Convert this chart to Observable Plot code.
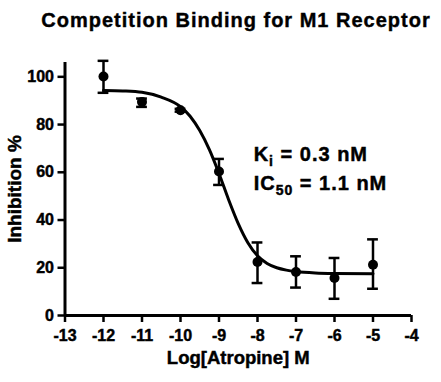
<!DOCTYPE html>
<html>
<head>
<meta charset="utf-8">
<script src="https://cdn.jsdelivr.net/npm/d3@7"></script>
<script src="https://cdn.jsdelivr.net/npm/@observablehq/plot@0.6"></script>
<style>
  html, body { margin: 0; padding: 0; background: #fff; }
  body { width: 441px; height: 382px; overflow: hidden; font-family: "Liberation Sans", Arial, sans-serif; }
  #title { height: 40px; box-sizing: border-box; padding-left: 31px; padding-top: 9px; text-align: center;
           font-size: 20px; font-weight: bold; color: #000; line-height: 22px; letter-spacing: 1px; white-space: nowrap;
           -webkit-text-stroke: 0.4px #000; }
  #chart svg text { font-weight: bold; stroke: #000; stroke-width: 0.45px; }
</style>
</head>
<body>
<div id="title">Competition Binding for M1 Receptor</div>
<div id="chart"></div>
<script>
// Measured points (log molar concentration) with error bars
const logConc = [-12, -11, -10, -9, -8, -7, -6, -5];
const inhibition = [100.1, 89.5, 86.0, 60.3, 22.4, 18.2, 15.7, 21.3];
const errHigh = [106.7, 90.9, 86.6, 65.6, 30.6, 24.8, 24.1, 31.9];
const errLow = [93.3, 87.4, 85.4, 54.7, 13.6, 11.7, 7.0, 11.2];

// Fitted curve
const fitX = [-12, -11.5, -11, -10.5, -10, -9.75, -9.5, -9.25, -9, -8.75, -8.5, -8.25, -8, -7.75, -7.5, -7.25, -7, -6.5, -6, -5];
const fitY = [94.3, 94.1, 93.5, 91.5, 87.5, 83.5, 77.5, 69.5, 59.5, 48.5, 38.5, 30.5, 25, 21.8, 20, 19, 18.4, 17.8, 17.6, 17.5];

// Axes
const xTicks = [-13, -12, -11, -10, -9, -8, -7, -6, -5, -4];
const yTicks = [0, 20, 40, 60, 80, 100];
const xLabel = "Log[Atropine] M";
const yLabel = "Inhibition %";

// Annotation
const annotMain = ["K", "IC"];
const annotSub = ["i", "50"];
const annotRest = [" = 0.3 nM", " = 1.1 nM"];
const annotY = [67.4, 55.4];
const annotX = -8.1;

const points = logConc.map((x, i) => ({x, y: inhibition[i], lo: errLow[i], hi: errHigh[i]}));
const fit = fitX.map((x, i) => ({x, y: fitY[i]}));
const annots = annotMain.map((m, i) => ({x: annotX, y: annotY[i], text: m + annotSub[i] + annotRest[i], m, s: annotSub[i], r: annotRest[i]}));
const capHalf = 0.14;

const plot = Plot.plot({
  width: 441,
  height: 342,
  marginLeft: 64.5,
  marginRight: 30,
  marginTop: 22,
  marginBottom: 67,
  style: {fontFamily: "'Liberation Sans', Arial, sans-serif", fontSize: "16px", fontWeight: "bold", color: "#000", background: "#fff"},
  x: {domain: [-13, -4]},
  y: {domain: [0, 106]},
  marks: [
    Plot.axisX({ticks: xTicks, tickSize: 7, tickPadding: 7, strokeWidth: 2.5, tickFormat: d => String(d), label: null, fontSize: 16}),
    Plot.axisY({ticks: yTicks, tickSize: 7, tickPadding: 4, strokeWidth: 2.5, tickFormat: d => String(d), label: null, fontSize: 16}),
    Plot.ruleY([0], {strokeWidth: 3, stroke: "#000"}),
    Plot.ruleX([-13], {strokeWidth: 3, stroke: "#000"}),
    Plot.line(fit, {x: "x", y: "y", curve: "monotone-x", stroke: "#000", strokeWidth: 3}),
    Plot.ruleX(points, {x: "x", y1: "lo", y2: "hi", stroke: "#000", strokeWidth: 2.5}),
    Plot.ruleY(points, {y: "hi", x1: d => d.x - capHalf, x2: d => d.x + capHalf, stroke: "#000", strokeWidth: 2.5}),
    Plot.ruleY(points, {y: "lo", x1: d => d.x - capHalf, x2: d => d.x + capHalf, stroke: "#000", strokeWidth: 2.5}),
    Plot.dot(points, {x: "x", y: "y", r: 5, fill: "#000", stroke: "none"}),
    Plot.text(annots, {x: "x", y: "y", text: "text", textAnchor: "start", fontSize: 20, fill: "#000"}),
    Plot.text([xLabel], {frameAnchor: "bottom", lineAnchor: "middle", textAnchor: "middle", dy: 43, text: d => d, fontSize: 18.5, fill: "#000"}),
    Plot.text([yLabel], {frameAnchor: "left", lineAnchor: "middle", textAnchor: "middle", dx: -50.5, rotate: -90, text: d => d, fontSize: 19, fill: "#000"})
  ]
});
document.getElementById("chart").appendChild(plot);

// Bold everywhere, and real subscript tspans in the annotation
const ns = "http://www.w3.org/2000/svg";
plot.querySelectorAll("text").forEach(t => {
  t.style.fontWeight = "bold";
  t.style.stroke = "#000";
  t.style.strokeWidth = "0.45px";
  const a = annots.find(d => d.text === t.textContent);
  if (!a) return;
  t.setAttribute("letter-spacing", "1");
  t.textContent = "";
  t.appendChild(document.createTextNode(a.m));
  const sub = document.createElementNS(ns, "tspan");
  sub.setAttribute("dy", "5");
  sub.setAttribute("font-size", "14");
  sub.textContent = a.s;
  t.appendChild(sub);
  const rest = document.createElementNS(ns, "tspan");
  rest.setAttribute("dy", "-5");
  rest.textContent = a.r;
  t.appendChild(rest);
});
</script>
</body>
</html>
